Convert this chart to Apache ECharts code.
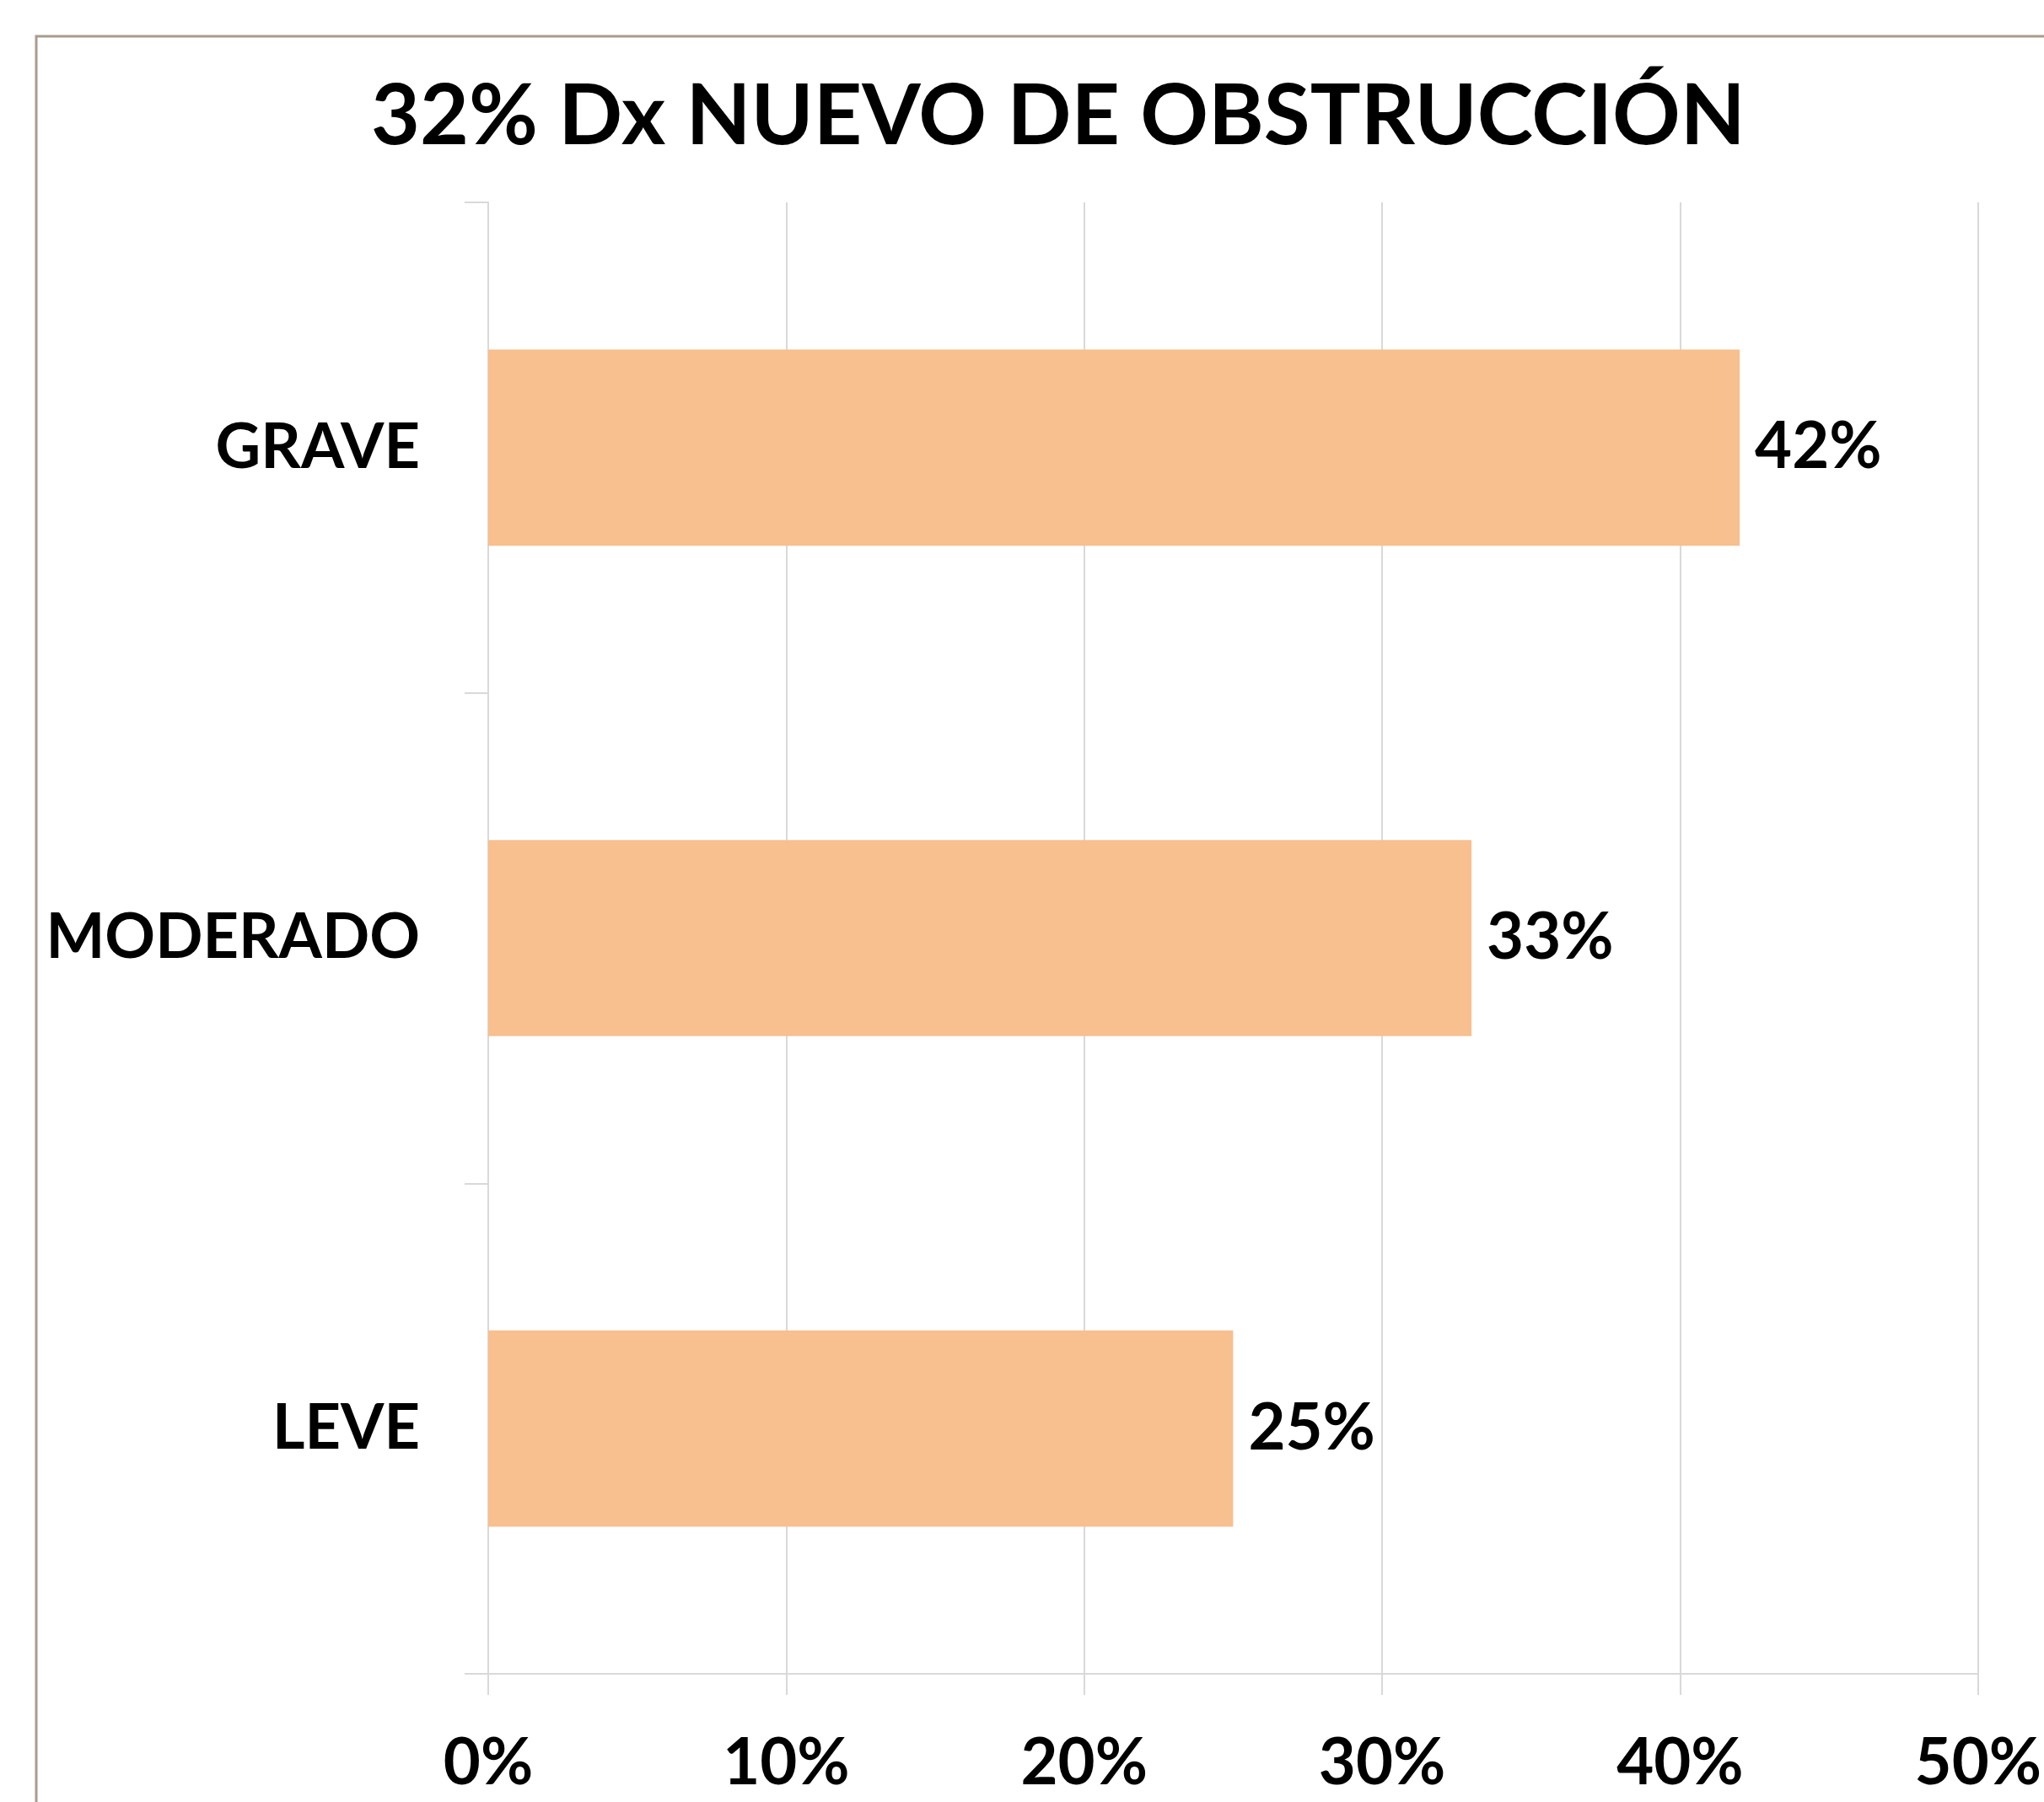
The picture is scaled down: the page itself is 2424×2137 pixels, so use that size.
<!DOCTYPE html>
<html>
<head>
<meta charset="utf-8">
<script src="https://cdn.jsdelivr.net/npm/echarts@6/dist/echarts.min.js"></script>
<style>
html,body{margin:0;padding:0;background:#ffffff;}
#chart{width:2424px;height:2137px;}
</style>
</head>
<body>
<div id="chart"></div>
<script>
const titleText = '32% Dx NUEVO DE OBSTRUCCIÓN';
const categories = ['GRAVE', 'MODERADO', 'LEVE'];
const values = [0.42, 0.33, 0.25];
const xMin = 0, xMax = 0.5, xStep = 0.1;

const FONT = 'Lato';
const chart = echarts.init(document.getElementById('chart'), null, {renderer: 'canvas'});
const pct = v => Math.round(v * 100) + '%';

chart.setOption({
  backgroundColor: '#ffffff',
  animation: false,
  title: {
    text: titleText,
    left: 1250,
    top: 84,
    textAlign: 'center',
    textStyle: {fontFamily: FONT, fontWeight: 'bold', fontSize: 100, color: '#000000'}
  },
  graphic: [{
    type: 'rect',
    shape: {x: 43, y: 43, width: 2600, height: 2300},
    style: {fill: 'none', stroke: '#A89C8E', lineWidth: 3},
    silent: true, z: 100
  }],
  grid: {left: 579, right: 62, top: 240, bottom: 152, containLabel: false},
  xAxis: {
    type: 'value',
    min: xMin, max: xMax, interval: xStep,
    axisLine: {show: true, lineStyle: {color: '#D9D9D9', width: 2}},
    axisTick: {show: true, length: 25, lineStyle: {color: '#D9D9D9', width: 2}},
    splitLine: {show: true, lineStyle: {color: '#D9D9D9', width: 2}},
    axisLabel: {
      margin: 68, formatter: pct,
      fontFamily: FONT, fontWeight: 'bold', fontSize: 76, color: '#000000'
    }
  },
  yAxis: {
    type: 'category',
    data: categories,
    inverse: true,
    axisLine: {show: true, lineStyle: {color: '#D9D9D9', width: 2}},
    axisTick: {show: true, length: 28, lineStyle: {color: '#D9D9D9', width: 2}},
    axisLabel: {
      margin: 81,
      fontFamily: FONT, fontWeight: 'bold', fontSize: 74, color: '#000000'
    }
  },
  series: [{
    type: 'bar',
    data: values,
    barCategoryGap: '60%',
    itemStyle: {color: '#F8BF8F'},
    label: {
      show: true, position: 'right', distance: 18,
      formatter: p => pct(p.value),
      fontFamily: FONT, fontWeight: 'bold', fontSize: 76, color: '#000000'
    }
  }]
});
</script>
</body>
</html>
